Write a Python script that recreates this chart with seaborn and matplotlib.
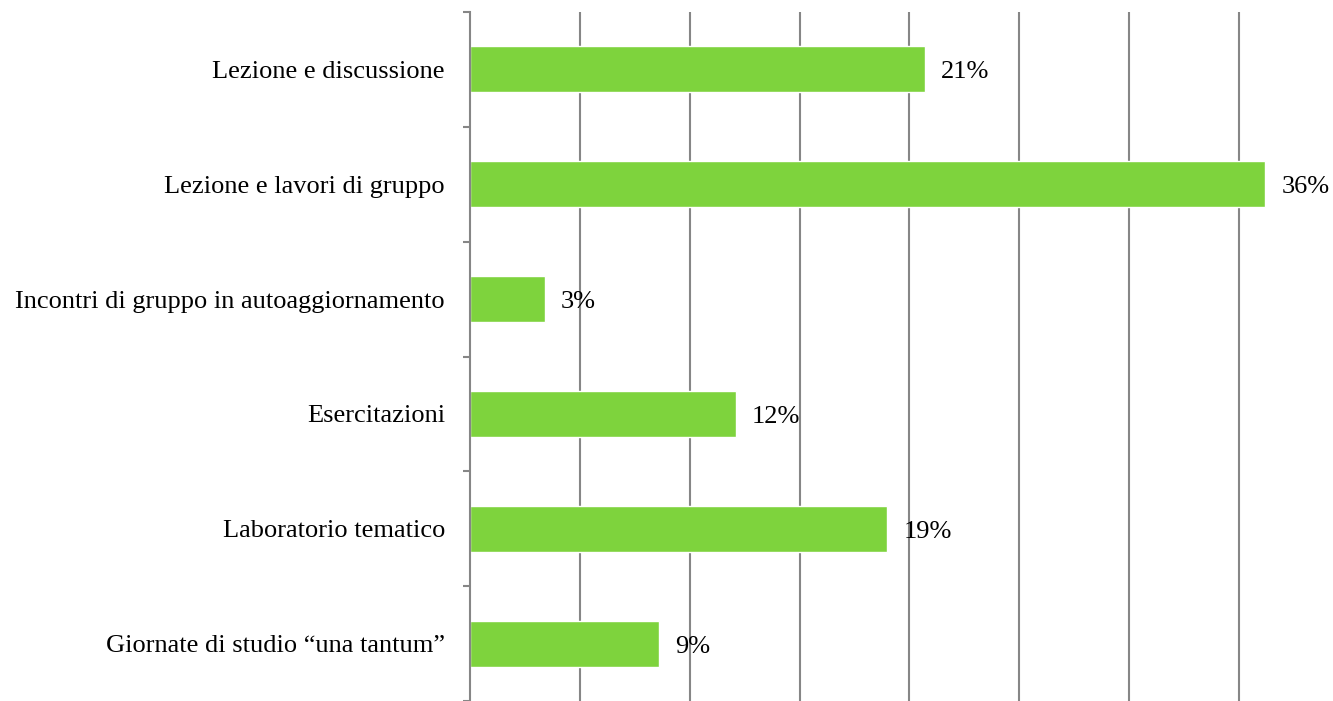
import matplotlib
matplotlib.use("Agg")
import matplotlib.pyplot as plt
import seaborn as sns
import pandas as pd
import numpy as np

categories = [
    "Lezione e discussione",
    "Lezione e lavori di gruppo",
    "Incontri di gruppo in autoaggiornamento",
    "Esercitazioni",
    "Laboratorio tematico",
    "Giornate di studio \u201cuna tantum\u201d",
]
values = [20.7, 36.2, 3.4, 12.1, 19.0, 8.6]
value_labels = ["21%", "36%", "3%", "12%", "19%", "9%"]

sns.set_theme(style="white")
plt.rcParams["font.family"] = ["Liberation Serif", "DejaVu Serif"]

df = pd.DataFrame({"cat": categories, "val": values})

fig = plt.figure(figsize=(13.33, 7.01), dpi=100)
ax = fig.add_axes([470 / 1333, 0.0, 1 - 470 / 1333, 1 - 12 / 701])

sns.barplot(data=df, y="cat", x="val", orient="h", color="#7ED33D",
            saturation=1, width=0.4, ax=ax)

ax.set_xlim(0, 39.28)
ax.set_ylim(len(categories) - 0.5, -0.5)
ax.set_axisbelow(True)

grid_color = "#868686"
ax.set_xticks(np.arange(5, 36, 5))
ax.set_xticklabels([])
ax.tick_params(axis="x", length=0)
ax.grid(axis="x", color=grid_color, linewidth=1.5)
ax.grid(axis="y", visible=False)

for s in ["top", "right", "bottom"]:
    ax.spines[s].set_visible(False)
ax.spines["left"].set_color(grid_color)
ax.spines["left"].set_linewidth(1.5)

ax.set_yticks(np.arange(len(categories)))
ax.set_yticklabels(categories, fontsize=19, color="black")
ax.tick_params(axis="y", which="major", left=False, length=0, pad=18)
ax.set_yticks(np.arange(-0.5, len(categories), 1), minor=True)
ax.tick_params(axis="y", which="minor", left=True, length=5, width=1.5,
               color=grid_color, direction="out")

ax.set_xlabel("")
ax.set_ylabel("")

for i, (v, lab) in enumerate(zip(values, value_labels)):
    ax.annotate(lab, xy=(v, i), xytext=(11.5, -6.5), textcoords="offset points",
                ha="left", va="baseline", fontsize=19, color="black")

fig.savefig("out.png", dpi=100)
